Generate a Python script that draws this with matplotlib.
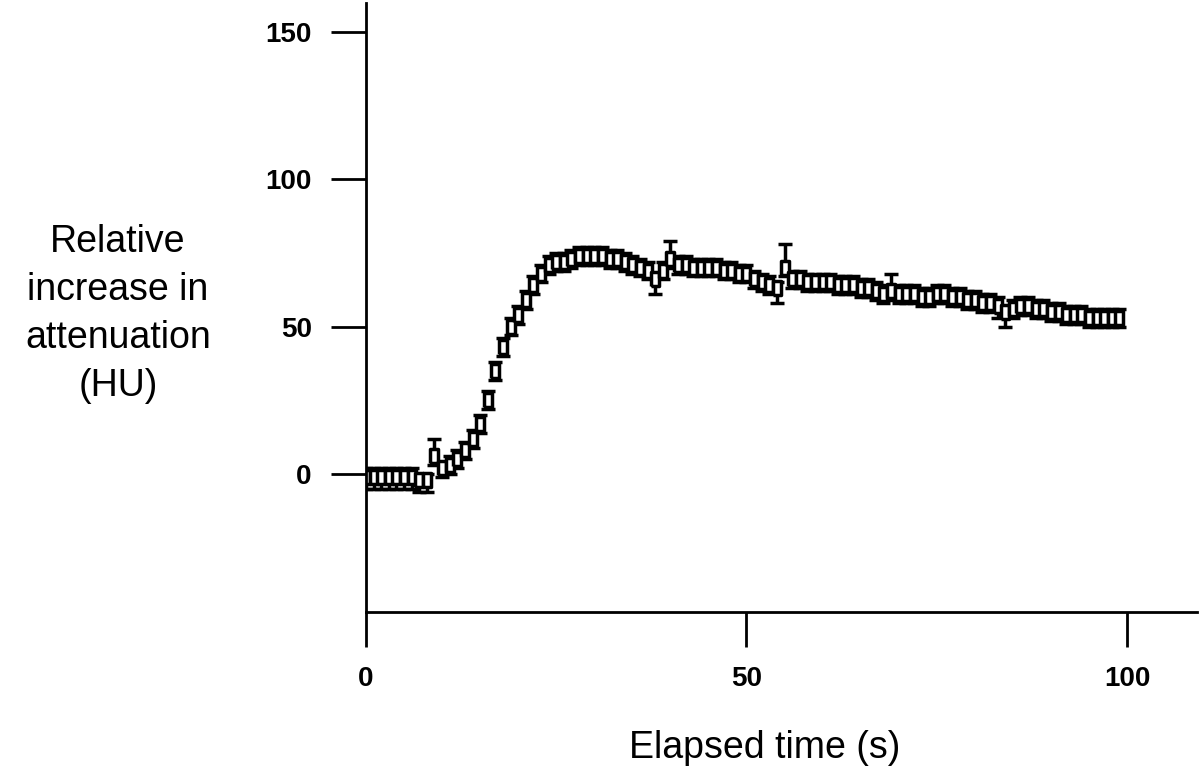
import numpy as np
import matplotlib
matplotlib.use("Agg")
import matplotlib.pyplot as plt

# elapsed time (s), one sample per second
t = list(range(100))
hu = [-1, -1, -1, -1, -1, -1, -1, -2, -2, 6,
      2, 3, 5, 8, 12, 17, 25, 35, 43, 50,
      54, 59, 64, 68, 71, 72, 72, 73, 74, 74,
      74, 74, 73, 73, 72, 71, 70, 69, 66, 69,
      73, 71, 71, 70, 70, 70, 70, 69, 69, 68,
      68, 66, 65, 64, 63, 70, 66, 66, 65, 65,
      65, 65, 64, 64, 64, 63, 63, 62, 61, 62,
      61, 61, 61, 60, 60, 61, 61, 60, 60, 59,
      59, 58, 58, 57, 55, 56, 57, 57, 56, 56,
      55, 55, 54, 54, 54, 53, 53, 53, 53, 53]
err_hi = [3, 3, 3, 3, 3, 3, 3, 2, 2, 6,
          2, 3, 3, 3, 3, 3, 3, 3, 3, 3,
          3, 3, 3, 3, 3, 3, 3, 3, 3, 3,
          3, 3, 3, 3, 3, 3, 3, 3, 2, 3,
          6, 3, 3, 3, 3, 3, 3, 3, 3, 3,
          3, 3, 3, 3, 2, 8, 3, 3, 3, 3,
          3, 3, 3, 3, 3, 3, 3, 3, 3, 6,
          3, 3, 3, 3, 3, 3, 3, 3, 3, 3,
          3, 3, 3, 3, 2, 3, 3, 3, 3, 3,
          3, 3, 3, 3, 3, 3, 3, 3, 3, 3]
err_lo = [4, 4, 4, 4, 4, 4, 4, 4, 4, 3,
          3, 3, 3, 3, 3, 3, 3, 3, 3, 3,
          3, 3, 3, 3, 3, 3, 3, 3, 3, 3,
          3, 3, 3, 3, 3, 3, 3, 3, 5, 3,
          3, 3, 3, 3, 3, 3, 3, 3, 3, 3,
          3, 3, 3, 3, 5, 3, 3, 3, 3, 3,
          3, 3, 3, 3, 3, 3, 3, 3, 3, 3,
          3, 3, 3, 3, 3, 3, 3, 3, 3, 3,
          3, 3, 3, 4, 5, 3, 3, 3, 3, 3,
          3, 3, 3, 3, 3, 3, 3, 3, 3, 3]

xticks = [0, 50, 100]
yticks = [0, 50, 100, 150]

# tall open box marker
box = [(-0.6, -1), (0.6, -1), (0.6, 1), (-0.6, 1), (-0.6, -1)]

fig = plt.figure(figsize=(12, 7.76), dpi=100)
ax = fig.add_axes([0.305, 0.2113, 0.6925, 0.785])

ax.errorbar(t, hu, yerr=[err_lo, err_hi], fmt='none', ecolor='black',
            elinewidth=2.5, capsize=5, capthick=2.5)
ax.plot(t, hu, linestyle='none', marker=box, markersize=10,
        markerfacecolor='white', markeredgecolor='black', markeredgewidth=2.5)

ax.set_xlim(0, 109.2)
ax.set_ylim(-46.8, 159.8)
ax.set_xticks(xticks)
ax.set_yticks(yticks)
ax.spines['top'].set_visible(False)
ax.spines['right'].set_visible(False)
for s in ['left', 'bottom']:
    ax.spines[s].set_linewidth(2)
ax.tick_params(direction='out', length=25, width=2, pad=14)
for lab in ax.get_xticklabels() + ax.get_yticklabels():
    lab.set_fontfamily('Liberation Sans')
    lab.set_fontweight('bold')
    lab.set_fontsize(20)

fig.text(118 / 1200, 1 - 314 / 776, "Relative\nincrease in\nattenuation\n(HU)",
         ha='center', va='center', fontsize=27, family='Liberation Sans',
         linespacing=1.42)
fig.text(765 / 1200, 1 - 748 / 776, "Elapsed time (s)", ha='center',
         va='center', fontsize=27, family='Liberation Sans')

fig.savefig("out.png", dpi=100)
